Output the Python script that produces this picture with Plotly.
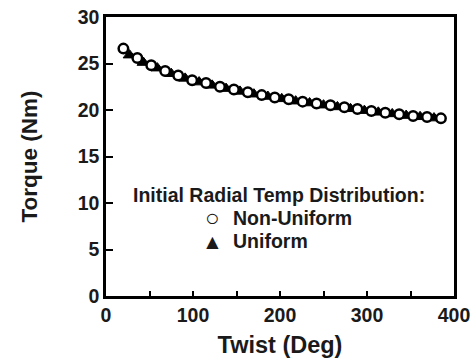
import plotly.graph_objects as go

# Non-Uniform (open circles)
nonuni_x = [20, 36, 52, 68, 83, 99, 115, 131, 147, 163, 179, 194, 210, 226, 242, 258, 274, 289, 305, 321, 337, 353, 369, 385]
nonuni_y = [26.6, 25.6, 24.8, 24.2, 23.7, 23.2, 22.9, 22.5, 22.2, 21.9, 21.6, 21.35, 21.15, 20.9, 20.7, 20.5, 20.3, 20.1, 19.9, 19.7, 19.55, 19.35, 19.25, 19.1]
# Uniform (filled triangles)
uni_x = [27, 43, 59, 75, 91, 107, 122, 138, 154, 170, 186, 202, 218, 234, 250, 266, 281, 297, 313, 329, 345, 361, 377]
uni_y = [25.9, 25.1, 24.5, 23.9, 23.4, 23.0, 22.65, 22.3, 22.0, 21.7, 21.45, 21.2, 20.95, 20.75, 20.52, 20.33, 20.13, 19.93, 19.75, 19.58, 19.4, 19.27, 19.13]

x_tickvals = [0, 50, 100, 150, 200, 250, 300, 350, 400]
x_ticktext = ["0", "", "100", "", "200", "", "300", "", "400"]
y_tickvals = [0, 5, 10, 15, 20, 25, 30]

legend_title = "Initial Radial Temp Distribution:"
legend_names = ["Non-Uniform", "Uniform"]
legend_glyphs = ["\u25CB", "\u25B2"]
glyph_sizes = [24, 21]

FONT = "Liberation Sans, Arial, sans-serif"
INK = "#1a1a1a"

fig = go.Figure()
fig.add_trace(go.Scatter(
    x=uni_x, y=uni_y, mode="markers", name=legend_names[1], showlegend=False,
    marker=dict(symbol="triangle-up", size=11, color="black", line=dict(color="black", width=1)),
))
fig.add_trace(go.Scatter(
    x=nonuni_x, y=nonuni_y, mode="markers", name=legend_names[0], showlegend=False,
    marker=dict(symbol="circle", size=9.5, color="white", line=dict(color="black", width=2.5)),
))

annos = [dict(text=legend_title, x=0.496, y=0.363, xref="paper", yref="paper",
              showarrow=False, xanchor="center", yanchor="middle",
              font=dict(size=19.5, family=FONT, weight="bold", color=INK))]
for i, (g, n, gs) in enumerate(zip(legend_glyphs, legend_names, glyph_sizes)):
    yy = 0.281 - 0.084 * i
    annos.append(dict(text=g, x=0.305, y=yy, xref="paper", yref="paper", showarrow=False,
                      xanchor="center", yanchor="middle",
                      font=dict(size=gs, family=FONT, color=INK)))
    annos.append(dict(text=n, x=0.36, y=yy, xref="paper", yref="paper", showarrow=False,
                      xanchor="left", yanchor="middle",
                      font=dict(size=19.5, family=FONT, weight="bold", color=INK)))

fig.update_layout(
    width=474, height=358,
    margin=dict(l=106, r=20, t=17, b=62),
    plot_bgcolor="white", paper_bgcolor="white",
    font=dict(family=FONT, color=INK, size=18, weight="bold"),
    showlegend=False,
    annotations=annos,
)
fig.update_xaxes(
    range=[0, 400], tickmode="array", tickvals=x_tickvals, ticktext=x_ticktext,
    ticks="inside", ticklen=5, tickwidth=2, tickcolor="black", automargin=False,
    showline=True, linecolor="black", linewidth=2.5, mirror=True, showgrid=False, zeroline=False,
    title=dict(text="Twist (Deg)", font=dict(size=23.5, family=FONT, weight="bold", color=INK), standoff=12),
    tickfont=dict(size=19.5, family=FONT, weight="bold", color=INK),
)
fig.update_yaxes(
    range=[0, 30], tickmode="array", tickvals=y_tickvals,
    ticks="inside", ticklen=7, tickwidth=2, tickcolor="black", automargin=False,
    showline=True, linecolor="black", linewidth=2.5, mirror=True, showgrid=False, zeroline=False,
    title=dict(text="Torque (Nm)", font=dict(size=22.5, family=FONT, weight="bold", color=INK), standoff=34),
    tickfont=dict(size=19.5, family=FONT, weight="bold", color=INK),
)

fig.write_html("out.html")
